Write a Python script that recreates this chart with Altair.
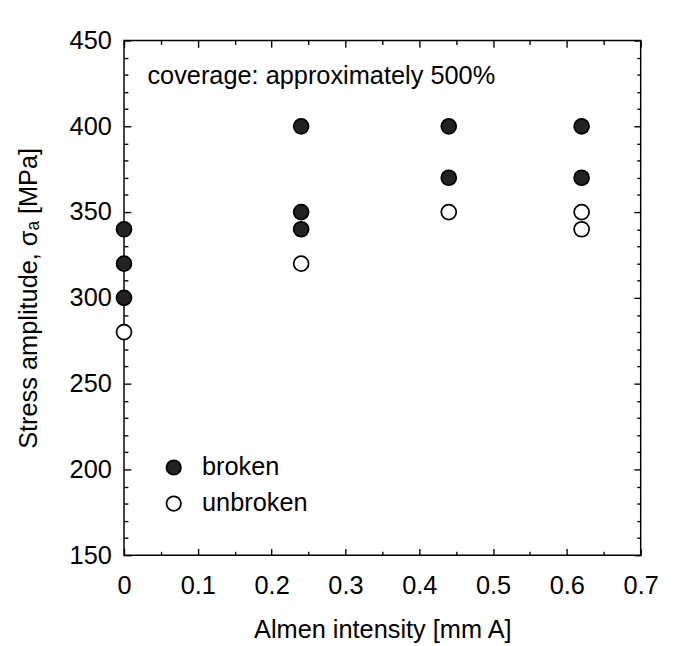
import altair as alt
import pandas as pd

# Data
broken_x = [0.0, 0.0, 0.0, 0.24, 0.24, 0.24, 0.44, 0.44, 0.62, 0.62]
broken_y = [340, 320, 300, 400, 350, 340, 400, 370, 400, 370]
unbroken_x = [0.0, 0.24, 0.44, 0.62, 0.62]
unbroken_y = [280, 320, 350, 350, 340]

status_labels = ["broken", "unbroken"]
x_tick_values = [0.0, 0.05, 0.1, 0.15, 0.2, 0.25, 0.3, 0.35, 0.4, 0.45, 0.5, 0.55, 0.6, 0.65, 0.7]
y_tick_values = [150, 160, 170, 180, 190, 200, 210, 220, 230, 240, 250, 260, 270, 280, 290,
                 300, 310, 320, 330, 340, 350, 360, 370, 380, 390, 400, 410, 420, 430, 440, 450]
annotation = "coverage: approximately 500%"

df = pd.DataFrame({
    "x": broken_x + unbroken_x,
    "y": broken_y + unbroken_y,
    "status": [status_labels[0]] * len(broken_x) + [status_labels[1]] * len(unbroken_x),
})

FONT = "Liberation Sans"
FS = 26

x_major = "round(datum.value*100) % 10 === 0"
y_major = "datum.value % 50 === 0"

x_scale = alt.Scale(domain=[0, 0.7], nice=False, zero=False)
y_scale = alt.Scale(domain=[150, 450], nice=False, zero=False)

common_axis = dict(domain=False, grid=False, tickColor="black", tickWidth=1.4,
                   labelFont=FONT, labelFontSize=FS, labelColor="black",
                   titleFont=FONT, titleFontSize=FS, titleFontWeight="normal", titleColor="black")

x_bottom = alt.Axis(values=x_tick_values,
                    tickSize={"expr": f"{x_major} ? -7 : -4"},
                    labelExpr=f"{x_major} ? format(datum.value, '.1~f') : ''",
                    labelPadding=25, labelFlush=False, labelOverlap=False,
                    title="Almen intensity [mm A]", titlePadding=16, **common_axis)
y_left = alt.Axis(values=y_tick_values,
                  tickSize={"expr": f"{y_major} ? -7 : -4"},
                  labelExpr=f"{y_major} ? datum.label : ''",
                  labelPadding=20, labelFlush=False, labelOverlap=False,
                  title="Stress amplitude, σₐ [MPa]", titlePadding=28, **common_axis)
x_top = alt.Axis(values=x_tick_values, orient="top",
                 tickSize={"expr": f"{x_major} ? -7 : -4"},
                 labels=False, title=None, **common_axis)
y_right = alt.Axis(values=y_tick_values, orient="right",
                   tickSize={"expr": f"{y_major} ? -7 : -4"},
                   labels=False, title=None, **common_axis)

base = alt.Chart(df)

points = base.mark_point(shape="circle", size=235, stroke="black", strokeWidth=1.8,
                         opacity=1, fillOpacity=1).encode(
    x=alt.X("x:Q", scale=x_scale, axis=x_bottom),
    y=alt.Y("y:Q", scale=y_scale, axis=y_left),
    fill=alt.Fill("status:N",
                  scale=alt.Scale(domain=status_labels, range=["#222222", "#ffffff"]),
                  legend=alt.Legend(title=None, orient="none", legendX=38, legendY=425,
                                    symbolType="circle", symbolSize=220,
                                    symbolStrokeColor="black", symbolStrokeWidth=1.8,
                                    symbolFillColor="#222222",
                                    labelFont=FONT, labelFontSize=FS, labelColor="black",
                                    labelOffset=16, rowPadding=11, padding=0)),
)

frame_axes = base.mark_point(opacity=0).encode(
    x=alt.X("x:Q", scale=x_scale, axis=x_top),
    y=alt.Y("y:Q", scale=y_scale, axis=y_right),
)

note = alt.Chart(pd.DataFrame({"t": [annotation]})).mark_text(
    align="left", baseline="alphabetic", font=FONT, fontSize=FS, color="black"
).encode(x=alt.value(24), y=alt.value(45), text="t:N")

chart = alt.layer(points, frame_axes, note).resolve_axis(
    x="independent", y="independent"
).properties(
    width=530, height=528,
    padding={"left": 8, "top": 12, "right": 8, "bottom": 5},
    background="white",
).configure_view(stroke="black", strokeWidth=1.5)

chart.save("out.html", embed_options={"renderer": "svg", "actions": False})
